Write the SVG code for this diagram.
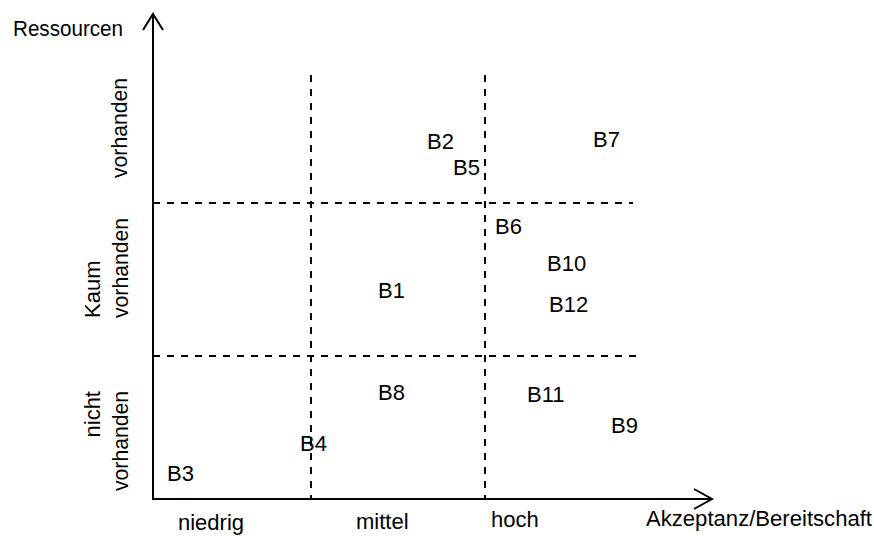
<svg xmlns="http://www.w3.org/2000/svg" width="874" height="536" viewBox="0 0 874 536">
  <style>
    text { font-family: "Liberation Sans", Arial, sans-serif; font-size: 22px; fill: #000; }
    .axis { stroke: #000; stroke-width: 2; fill: none; }
    .grid { stroke: #000; stroke-width: 2; fill: none; stroke-dasharray: 7 7; }
  </style>

  <!-- quadrant grid and axes -->
  <g id="connectors">
    <line class="grid" x1="311" y1="75" x2="311" y2="499"/>
    <line class="grid" x1="485" y1="75" x2="485" y2="499"/>
    <line class="grid" x1="153" y1="203" x2="633" y2="203"/>
    <line class="grid" x1="153" y1="356" x2="638" y2="356"/>

    <line class="axis" x1="153" y1="499" x2="153" y2="14"/>
    <polyline class="axis" points="143,30 153,14 163,30"/>
    <line class="axis" x1="152" y1="499" x2="712" y2="499"/>
    <polyline class="axis" points="694,489 712,499 694,509"/>
  </g>

  <!-- axis titles -->
  <g id="axis-labels">
    <text x="13" y="36" textLength="110" lengthAdjust="spacingAndGlyphs">Ressourcen</text>
    <text x="646" y="526" textLength="226" lengthAdjust="spacingAndGlyphs">Akzeptanz/Bereitschaft</text>
  </g>

  <!-- row labels (resources) -->
  <g id="row-labels">
    <text transform="translate(127,178) rotate(-90)" textLength="100" lengthAdjust="spacingAndGlyphs">vorhanden</text>
    <text transform="translate(100,318) rotate(-90)">Kaum</text>
    <text transform="translate(128,318) rotate(-90)" textLength="100" lengthAdjust="spacingAndGlyphs">vorhanden</text>
    <text transform="translate(100,391) rotate(-90)" text-anchor="end">nicht</text>
    <text transform="translate(128,491) rotate(-90)" textLength="100" lengthAdjust="spacingAndGlyphs">vorhanden</text>
  </g>

  <!-- column labels (acceptance) -->
  <g id="column-labels">
    <text x="178" y="530">niedrig</text>
    <text x="356" y="529">mittel</text>
    <text x="491" y="527">hoch</text>
  </g>

  <!-- plotted items -->
  <g id="B1"><text x="378" y="298">B1</text></g>
  <g id="B2"><text x="427" y="149">B2</text></g>
  <g id="B3"><text x="167" y="481">B3</text></g>
  <g id="B4"><text x="300" y="451">B4</text></g>
  <g id="B5"><text x="453" y="175">B5</text></g>
  <g id="B6"><text x="495" y="234">B6</text></g>
  <g id="B7"><text x="593" y="147">B7</text></g>
  <g id="B8"><text x="378" y="400">B8</text></g>
  <g id="B9"><text x="611" y="433">B9</text></g>
  <g id="B10"><text x="547" y="271">B10</text></g>
  <g id="B11"><text x="527" y="402">B11</text></g>
  <g id="B12"><text x="549" y="312">B12</text></g>
</svg>
